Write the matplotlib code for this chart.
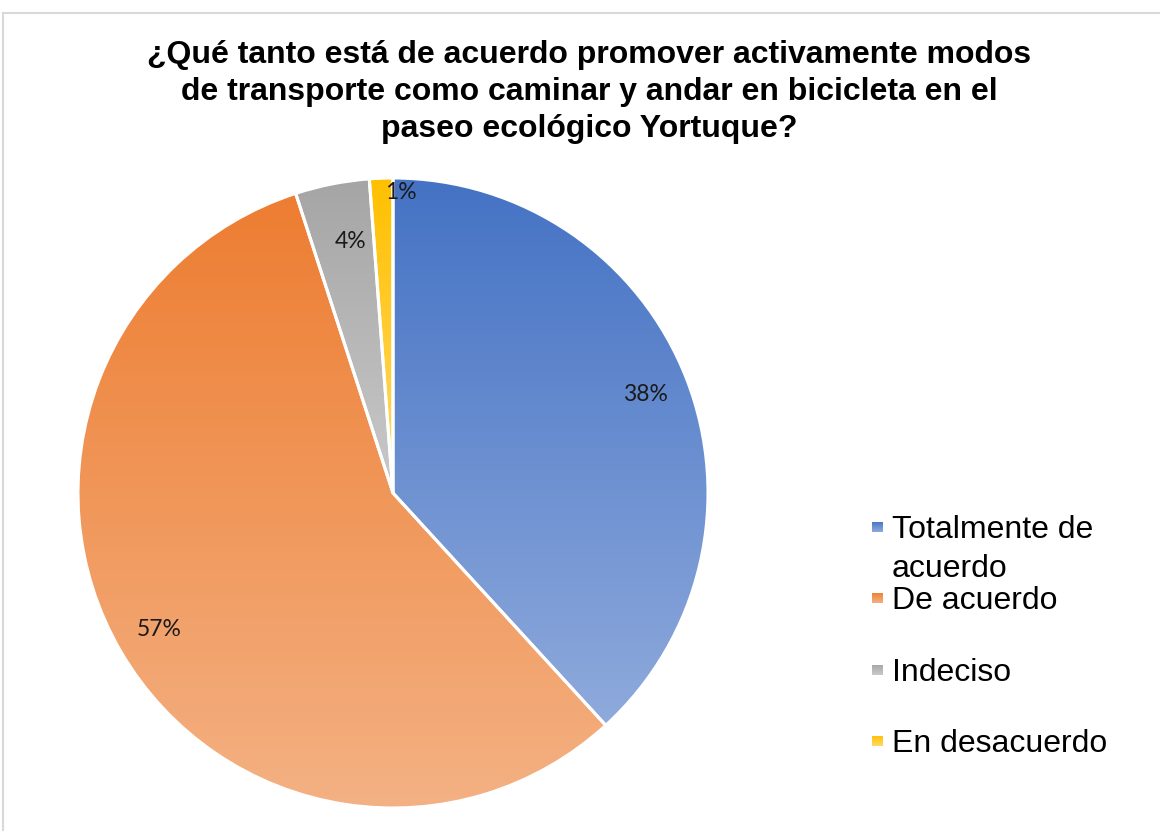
import numpy as np
import matplotlib
matplotlib.use("Agg")
import matplotlib.pyplot as plt
from matplotlib.colors import to_rgb
from matplotlib.transforms import ScaledTranslation
from matplotlib.lines import Line2D

# ---- data ----
categories = ["Totalmente de\nacuerdo", "De acuerdo", "Indeciso", "En desacuerdo"]
values = [38.2, 56.8, 3.8, 1.2]
title = ("¿Qué tanto está de acuerdo promover activamente modos\n"
         "de transporte como caminar y andar en bicicleta en el\n"
         "paseo ecológico Yortuque?")

# ---- styles ----
top_colors = ["#4472C4", "#ED7D31", "#A5A5A5", "#FFC000"]
bottom_colors = ["#8FAADC", "#F4B183", "#C9C9C9", "#FFD966"]
label_radius = [0.86, 0.86, 0.815, 0.955]
label_shift_px = [0, 0, 7, 19]

W, H = 1160, 831
fig = plt.figure(figsize=(W / 100, H / 100), dpi=100)
fig.patch.set_facecolor("white")

# chart border
fig.add_artist(Line2D([3 / W, 3 / W], [0, 1 - 13 / H], transform=fig.transFigure,
                      color="#D9D9D9", lw=1.5))
fig.add_artist(Line2D([3 / W, 1], [1 - 13 / H, 1 - 13 / H], transform=fig.transFigure,
                      color="#D9D9D9", lw=1.5))

cx, cy, R = 393, 493, 315
ax = fig.add_axes([(cx - R) / W, (H - cy - R) / H, 2 * R / W, 2 * R / H])

wedges, texts, autotexts = ax.pie(
    values, startangle=90, counterclock=False, radius=1,
    autopct="%1.0f%%", pctdistance=0.86,
    wedgeprops=dict(edgecolor="white", linewidth=2.2),
    textprops=dict(family="Lato", fontsize=16.5, color="#1a1a1a"))

def grad_img(c0, c1, n=256):
    a = np.array(to_rgb(c0)); b = np.array(to_rgb(c1))
    t = np.linspace(0, 1, n)[:, None]
    return (a * (1 - t) + b * t)[:, None, :]

for w, c0, c1 in zip(wedges, top_colors, bottom_colors):
    ext = w.get_path().get_extents()
    w.set_facecolor("none")
    w.set_zorder(3)
    im = ax.imshow(grad_img(c0, c1), extent=[ext.x0, ext.x1, ext.y0, ext.y1],
                   origin="upper", aspect="auto", interpolation="bilinear", zorder=2)
    im.set_clip_path(w)

for w, t, r, s in zip(wedges, autotexts, label_radius, label_shift_px):
    ang = np.deg2rad((w.theta1 + w.theta2) / 2)
    t.set_position((r * np.cos(ang), r * np.sin(ang)))
    t.set_transform(ax.transData + ScaledTranslation(s / 100, 0, fig.dpi_scale_trans))
    t.set_zorder(5)

ax.set_xlim(-1, 1)
ax.set_ylim(-1, 1)
ax.set_aspect("auto")
ax.axis("off")

# title
fig.text(589 / W, 1 - 92 / H, title, ha="center", va="center", family="Liberation Sans",
         fontweight="bold", fontsize=23, linespacing=1.32, color="#000000")

# legend (manual)
leg_x_marker, leg_x_text = 877, 892
leg_y = [527, 598, 670, 741]
for i, (lab, c0, c1) in enumerate(zip(categories, top_colors, bottom_colors)):
    y = leg_y[i]
    lax = fig.add_axes([(leg_x_marker - 5.5) / W, (H - y - 5.5) / H, 11 / W, 11 / H])
    lax.imshow(grad_img(c0, c1), extent=[0, 1, 0, 1], aspect="auto", origin="upper")
    lax.axis("off")
    fig.text(leg_x_text / W, 1 - (y - 12) / H, lab, ha="left", va="top",
             family="Liberation Sans", fontsize=23, linespacing=1.4, color="#000000")

fig.savefig("out.png", dpi=100, facecolor="white")
